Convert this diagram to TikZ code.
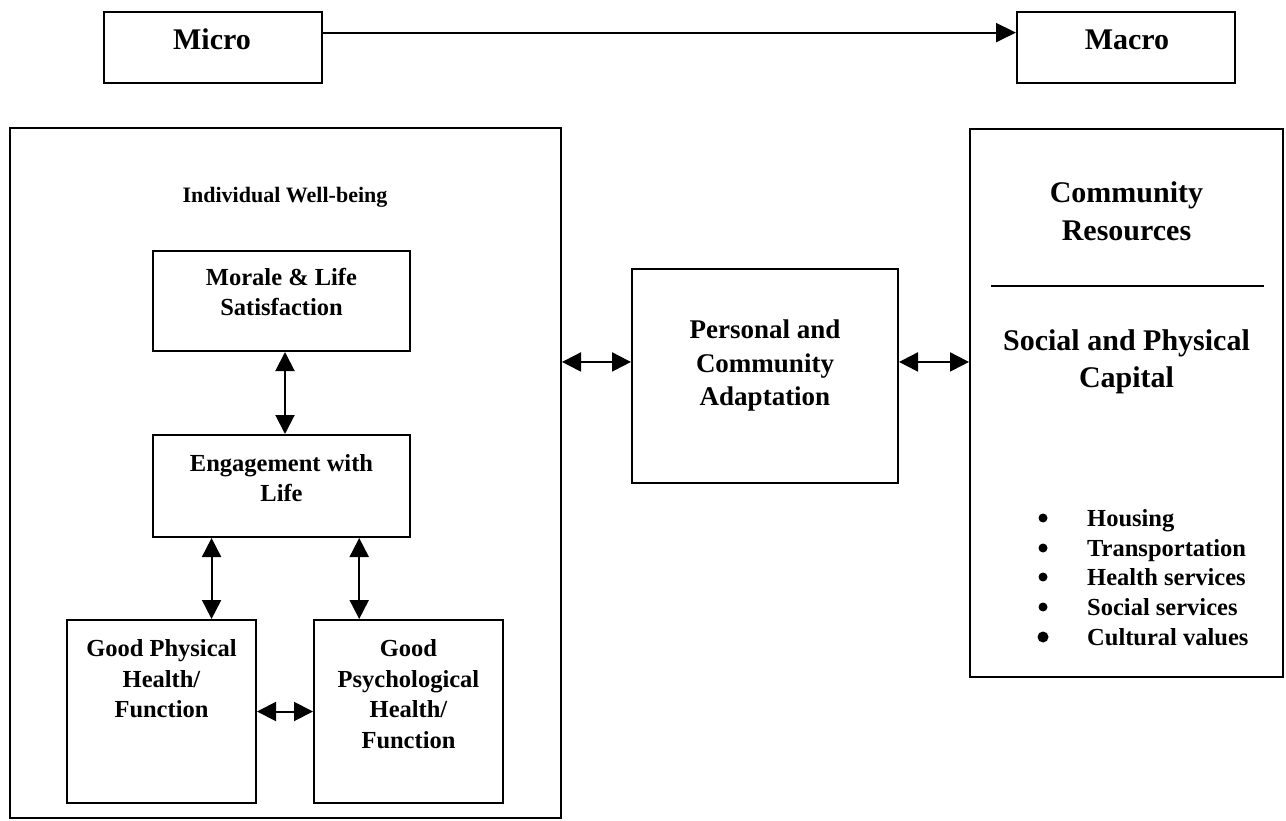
\documentclass[tikz,border=0pt]{standalone}
\usepackage{fontspec}
\setmainfont{Liberation Serif}
\usetikzlibrary{arrows.meta,calc}
\tikzset{
  box/.style={draw, line width=2pt, inner sep=0pt},
  lbl/.style={inner sep=0pt, align=center, font=\bfseries\fontsize{24.5}{30.5}\selectfont},
  pcalbl/.style={inner sep=0pt, align=center, font=\bfseries\fontsize{27}{33.5}\selectfont},
  biglbl/.style={inner sep=0pt, align=center, font=\bfseries\fontsize{30}{38}\selectfont},
  smalllbl/.style={inner sep=0pt, align=center, font=\bfseries\fontsize{22}{26}\selectfont},
  item/.style={inner sep=0pt, anchor=base west, font=\bfseries\fontsize{24.5}{30}\selectfont},
  link/.style={line width=2pt, {Triangle[length=19pt,width=19pt]}-{Triangle[length=19pt,width=19pt]}},
  oneway/.style={line width=2pt, -{Triangle[length=20pt,width=19pt]}},
}
\begin{document}
\begin{tikzpicture}[x=1pt,y=-1pt]
\useasboundingbox (0,0) rectangle (1286,821);

% scale boxes
\node[box, minimum width=218, minimum height=71] (micro) at (213,47.5) {};
\node[box, minimum width=218, minimum height=71] (macro) at (1126,47.5) {};
\node[biglbl, anchor=base] (microtxt) at (212,50) {Micro};
\node[biglbl, anchor=base] (macrotxt) at (1127,50) {Macro};
\draw[oneway] ($(micro.north east)!0.296!(micro.south east)$) -- ($(macro.north west)!0.296!(macro.south west)$);

% individual well-being
\node[box, minimum width=551, minimum height=690] (iwb) at (285.5,473) {};
\node[smalllbl] (iwbtxt) at (285,197) {Individual Well-being};

\node[box, minimum width=257, minimum height=100] (morale) at (281.5,301) {};
\node[lbl] (moraletxt) at (281.5,292) {Morale \& Life\\Satisfaction};

\node[box, minimum width=257, minimum height=102] (engage) at (281.5,486) {};
\node[lbl] (engagetxt) at (281.5,478) {Engagement with\\Life};

\node[box, minimum width=189, minimum height=183] (phys) at (161.5,711.5) {};
\node[lbl] (phystxt) at (161.5,679) {Good Physical\\Health/\\Function};

\node[box, minimum width=189, minimum height=183] (psych) at (408.5,711.5) {};
\node[lbl] (psychtxt) at (408.5,694) {Good\\Psychological\\Health/\\Function};

\draw[link] ($(morale.south)+(3.5,0)$) -- ($(engage.north)+(3.5,0)$);
\coordinate (e1) at ($(engage.south west)!0.23!(engage.south east)$);
\coordinate (e2) at ($(engage.south west)!0.8!(engage.south east)$);
\draw[link] (e1) -- (e1 |- phys.north);
\draw[link] (e2) -- (e2 |- psych.north);
\draw[link] (phys.east) -- (psych.west);

% adaptation
\node[box, minimum width=266, minimum height=214] (pca) at (765,376) {};
\node[pcalbl] (pcatxt) at (765,366) {Personal and\\Community\\Adaptation};

% community resources
\node[box, minimum width=313, minimum height=548] (comm) at (1126.5,403) {};
\node[biglbl] (commtxt) at (1126.5,211) {Community\\Resources};
\draw[line width=1.5pt] ($(comm.north west)+(22,158)$) -- ($(comm.north east)+(-20,158)$);
\node[biglbl] (captxt) at (1126.5,362) {Social and Physical\\[-1pt]Capital};

\coordinate (pl) at ($(pca.north west)!0.435!(pca.south west)$);
\coordinate (pr) at ($(pca.north east)!0.435!(pca.south east)$);
\draw[link] (iwb.east |- pl) -- (pl);
\draw[link] (pr) -- (comm.west |- pr);

% resource list
\foreach \y/\r in {518/4.5, 548/4.5, 577/4.5, 607/4.5, 637/5.5}
  \fill (1043,\y) circle (\r);
\node[item] (i1) at (1087,526.5) {Housing};
\node[item] (i2) at (1087,556.5) {Transportation};
\node[item] (i3) at (1087,585.5) {Health services};
\node[item] (i4) at (1087,615.5) {Social services};
\node[item] (i5) at (1087,645.5) {Cultural values};
\end{tikzpicture}
\end{document}
